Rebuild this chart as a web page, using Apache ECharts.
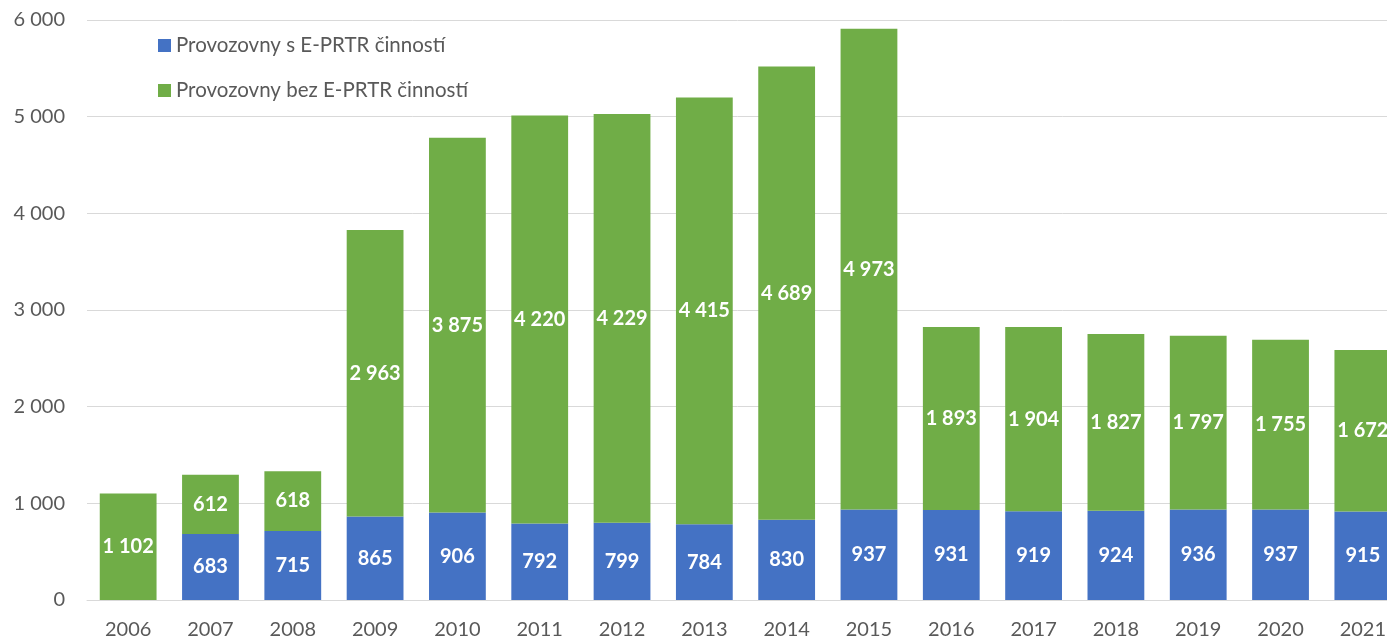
<!DOCTYPE html>
<html>
<head>
<meta charset="utf-8">
<script src="https://cdn.jsdelivr.net/npm/echarts@6/dist/echarts.min.js"></script>
<style>
  html, body { margin: 0; padding: 0; background: #fff; }
  #chart { width: 1387px; height: 639px; }
</style>
</head>
<body>
<div id="chart"></div>
<script>
// Počty provozoven podle roku
const years = ['2006','2007','2008','2009','2010','2011','2012','2013','2014','2015','2016','2017','2018','2019','2020','2021'];
const withEprtr = [null, 683, 715, 865, 906, 792, 799, 784, 830, 937, 931, 919, 924, 936, 937, 915];
const withoutEprtr = [1102, 612, 618, 2963, 3875, 4220, 4229, 4415, 4689, 4973, 1893, 1904, 1827, 1797, 1755, 1672];
const seriesNames = ['Provozovny s E-PRTR činností', 'Provozovny bez E-PRTR činností'];

const FONT = 'Lato, "Noto Sans", sans-serif';
const fmt = v => String(v).replace(/\B(?=(\d{3})+(?!\d))/g, ' ');

const label = {
  show: true,
  position: 'inside',
  color: '#fff',
  fontWeight: 'bold',
  fontSize: 20,
  fontFamily: FONT,
  formatter: p => (p.value == null ? '' : fmt(p.value))
};

const chart = echarts.init(document.getElementById('chart'), null, { renderer: 'canvas' });
chart.setOption({
  animation: false,
  textStyle: { fontFamily: FONT },
  legend: {
    orient: 'vertical',
    left: 153,
    top: 30,
    itemWidth: 13,
    itemHeight: 13,
    itemGap: 24,
    icon: 'rect',
    textStyle: { color: '#595959', fontSize: 20.5, fontFamily: FONT },
    data: seriesNames
  },
  // the plot runs a little past the right edge of the canvas
  grid: { left: 87, width: 1317, top: 20, bottom: 39, containLabel: false, outerBoundsMode: 'none' },
  xAxis: {
    type: 'category',
    data: years,
    axisLine: { show: true, lineStyle: { color: '#d9d9d9', width: 1 } },
    axisTick: { show: false },
    axisLabel: { color: '#595959', fontSize: 20, fontFamily: FONT, margin: 20 }
  },
  yAxis: {
    type: 'value',
    min: 0,
    max: 6000,
    interval: 1000,
    axisLine: { show: false },
    axisTick: { show: false },
    splitLine: { lineStyle: { color: '#d9d9d9', width: 1 } },
    axisLabel: { color: '#595959', fontSize: 20, fontFamily: FONT, margin: 22, formatter: v => fmt(v) }
  },
  series: [
    {
      name: seriesNames[0],
      type: 'bar',
      stack: 'total',
      barWidth: '69%',
      data: withEprtr,
      itemStyle: { color: '#4472C4' },
      label: label
    },
    {
      name: seriesNames[1],
      type: 'bar',
      stack: 'total',
      barWidth: '69%',
      data: withoutEprtr,
      itemStyle: { color: '#70AD47' },
      label: label
    }
  ]
});
</script>
</body>
</html>
